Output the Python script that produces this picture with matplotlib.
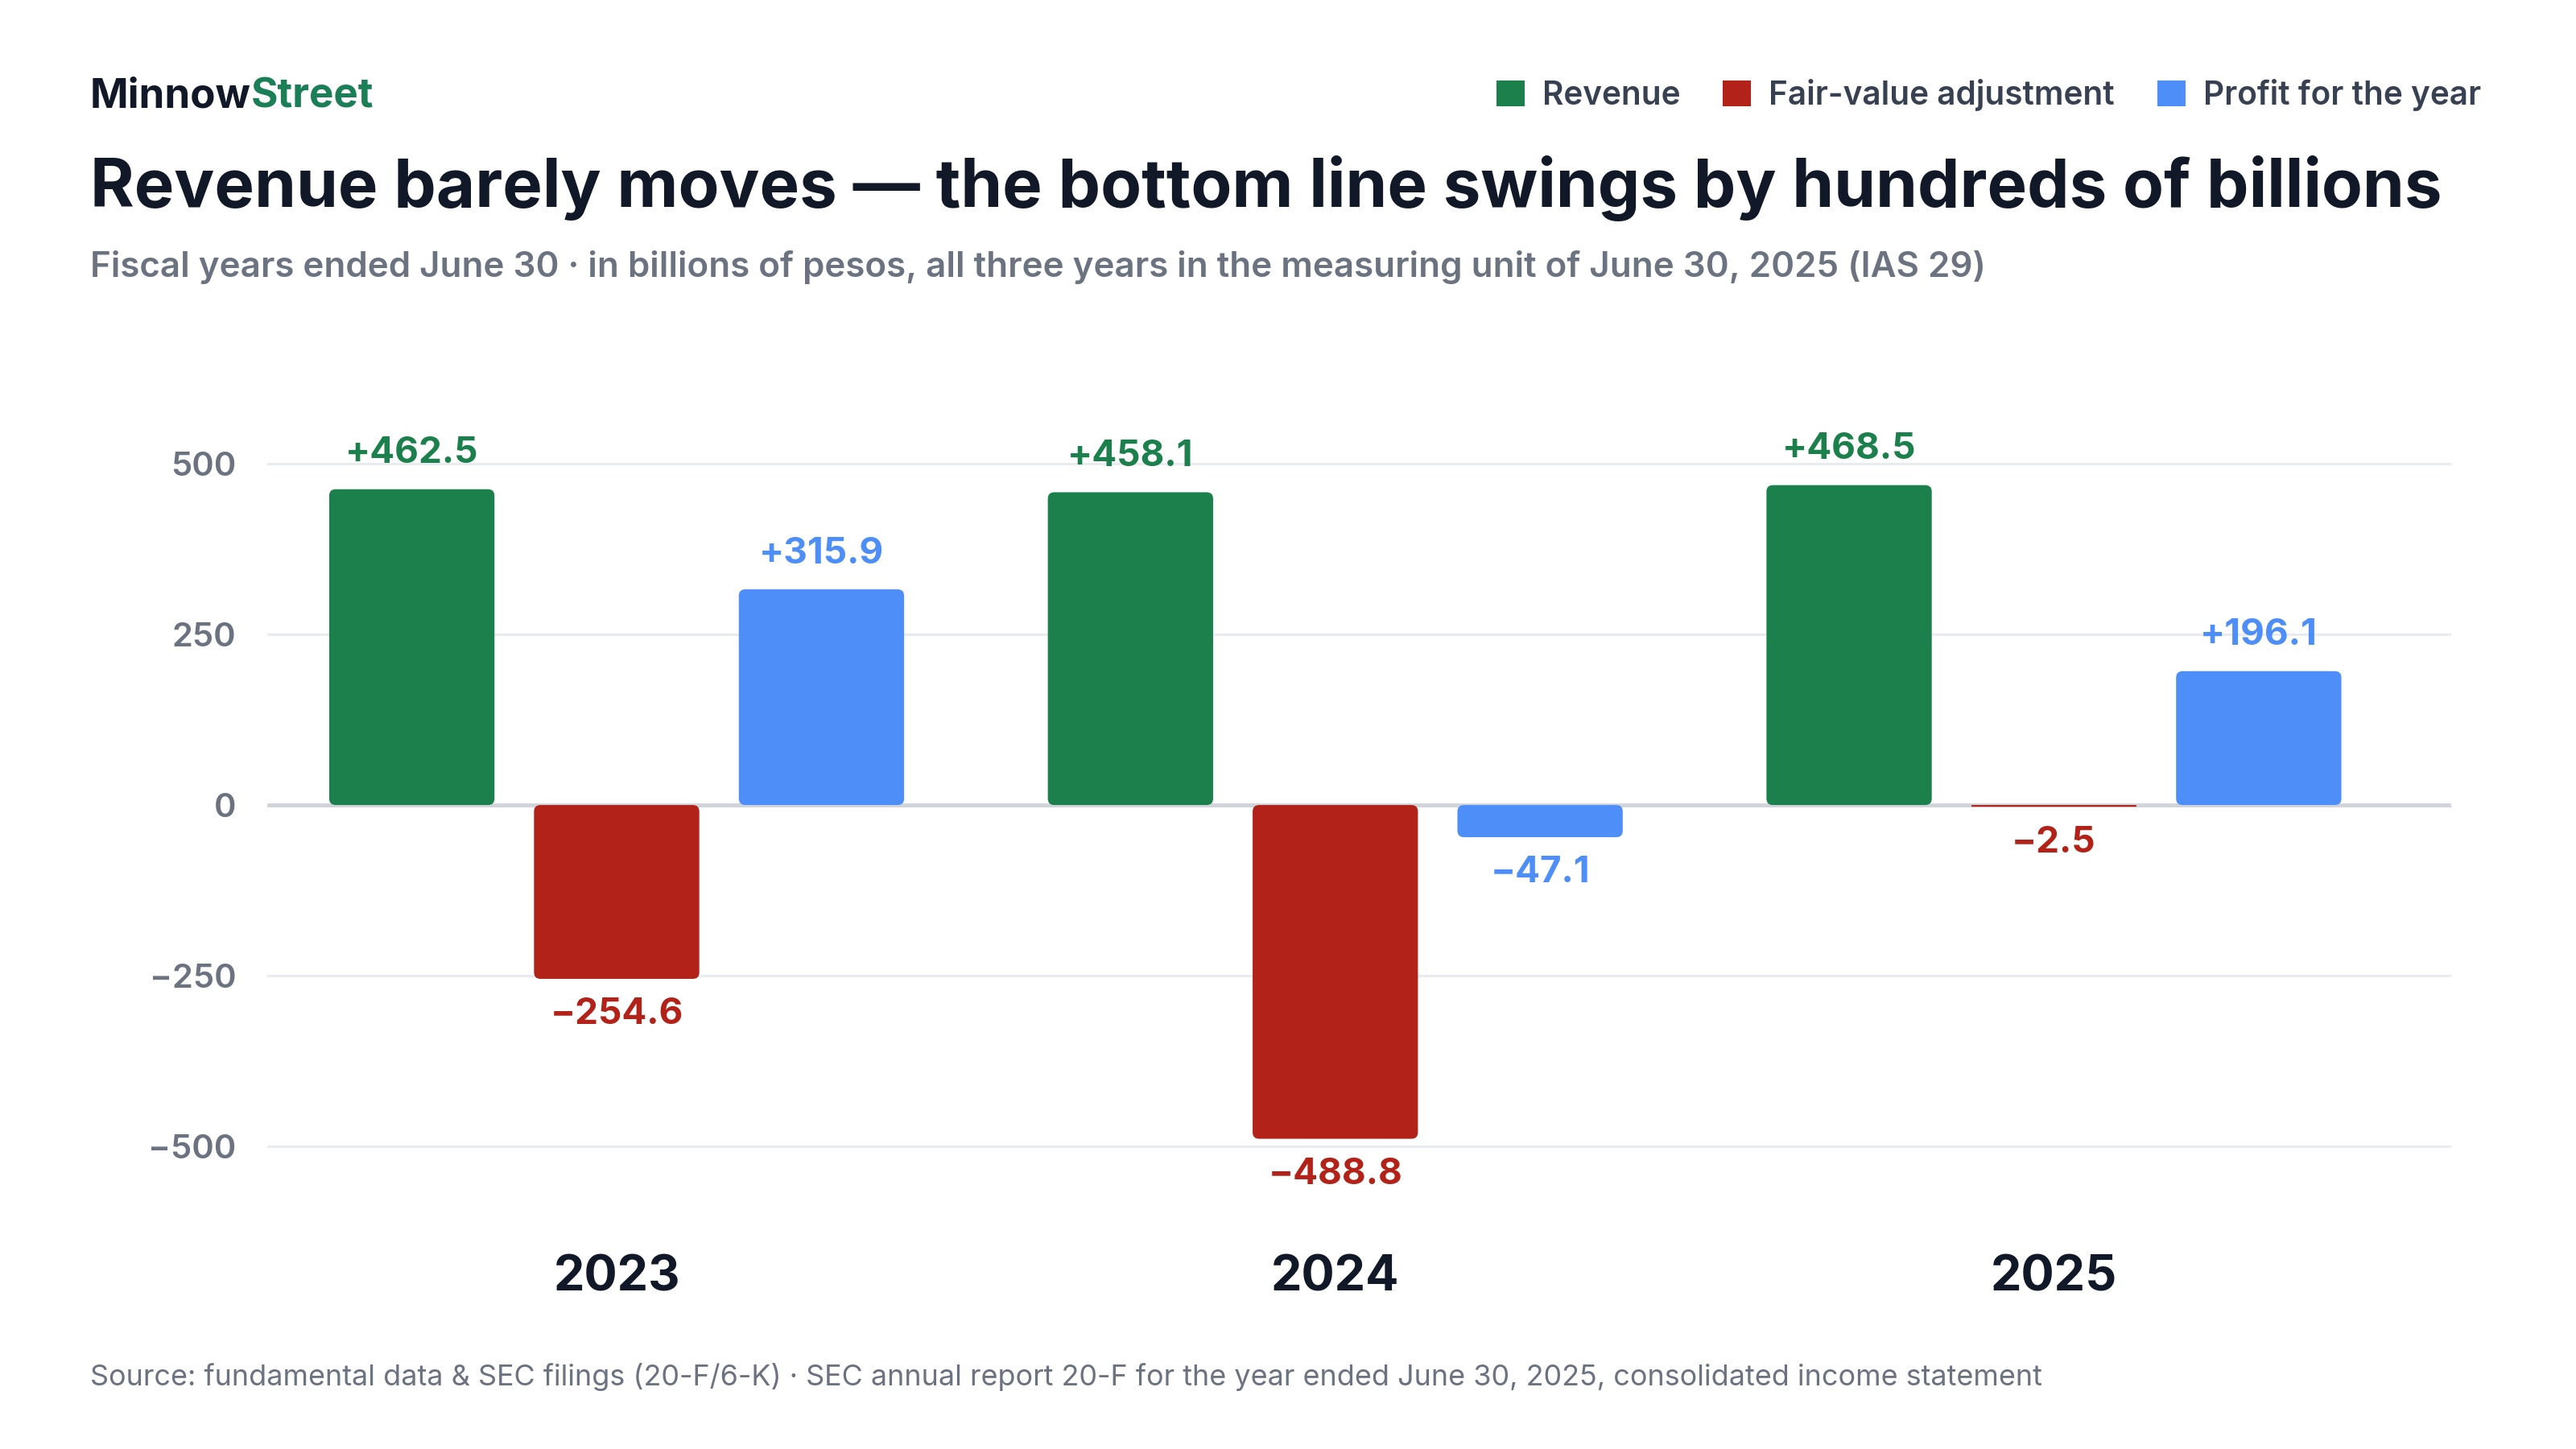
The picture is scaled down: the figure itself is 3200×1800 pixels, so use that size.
import matplotlib.pyplot as plt
import numpy as np
from matplotlib.patches import FancyBboxPatch, Patch
from matplotlib.transforms import blended_transform_factory

plt.rcParams['font.family'] = ['Inter', 'DejaVu Sans']

years = ['2023', '2024', '2025']
series = ['Revenue', 'Fair-value adjustment', 'Profit for the year']
revenue = [462.5, 458.1, 468.5]
fair_value = [-254.6, -488.8, -2.5]
profit = [315.9, -47.1, 196.1]
colors = ['#1b804b', '#b22218', '#4d8ef8']
yticks = [-500, -250, 0, 250, 500]

W, H, DPI = 16, 9, 200
fig = plt.figure(figsize=(W, H), dpi=DPI)
left, right, bottom, top = 0.1038, 0.9516, 0.1617, 0.7083
ax = fig.add_axes([left, bottom, right - left, top - bottom])

xlim = (-0.486, 2.553)
ylim = (-600, 560)
ax.set_xlim(xlim)
ax.set_ylim(ylim)

x = np.arange(len(years))
width = 0.23
offset = 0.285

# data units per pixel, for rounded corners
xu = (xlim[1] - xlim[0]) / ((right - left) * W * DPI)
yu = (ylim[1] - ylim[0]) / ((top - bottom) * H * DPI)
aspect = yu / xu

handles = []
for i, (vals, c, name) in enumerate(zip([revenue, fair_value, profit], colors, series)):
    bars = ax.bar(x + (i - 1) * offset, vals, width, color=c, zorder=3)
    handles.append(Patch(fc=c, ec='none', label=name))
    for b, v in zip(bars, vals):
        bx, by, bw, bh = b.get_x(), b.get_y(), b.get_width(), b.get_height()
        if bh < 0:
            by, bh = by + bh, -bh
        r_px = min(8, bh / yu / 2)
        b.set_visible(False)
        ax.add_patch(FancyBboxPatch((bx, by), bw, bh,
                                    boxstyle=f"round,pad=0,rounding_size={r_px * xu}",
                                    mutation_aspect=aspect, fc=c, ec='none', zorder=3))
        txt = ('+' if v >= 0 else '\u2212') + f"{abs(v):.1f}"
        ax.annotate(txt, (b.get_x() + bw / 2, v), xytext=(0, 16 if v >= 0 else -16),
                    textcoords='offset points', ha='center', va='center',
                    color=c, fontsize=16.5, fontweight='bold', zorder=4)

ax.set_yticks(yticks)
ax.set_yticklabels([('\u2212' + str(-t)) if t < 0 else str(t) for t in yticks])
ax.tick_params(axis='y', length=0, pad=14, labelsize=15, labelcolor='#6b7280')
for lab in ax.get_yticklabels():
    lab.set_fontweight('semibold')
ax.set_xticks([])
for t in yticks:
    if t == 0:
        ax.axhline(0, color='#d1d5db', lw=1.8, zorder=2)
    else:
        ax.axhline(t, color='#e8ebef', lw=1.1, zorder=1)
for s in ax.spines.values():
    s.set_visible(False)

tr = blended_transform_factory(ax.transData, ax.transAxes)
for xi, yr in zip(x, years):
    ax.text(xi, -0.08, yr, transform=tr, ha='center', va='center',
            fontsize=22, fontweight='bold', color='#111827')

# header
t1 = fig.text(112 / 3200, 1 - 120 / 1800, 'Minnow', fontsize=18.4, fontweight='bold',
              color='#111827', va='center', ha='left')
fig.canvas.draw()
bb = t1.get_window_extent()
fig.text(bb.x1 / (W * DPI), 1 - 120 / 1800, 'Street', fontsize=18.4, fontweight='bold',
         color='#1a7f56', va='center', ha='left')

fig.text(112 / 3200, 1 - 234 / 1800,
         'Revenue barely moves \u2014 the bottom line swings by hundreds of billions',
         fontsize=30, fontweight='bold', color='#111827', va='center', ha='left')
fig.text(112 / 3200, 1 - 332 / 1800,
         'Fiscal years ended June 30 \u00b7 in billions of pesos, all three years in the '
         'measuring unit of June 30, 2025 (IAS 29)',
         fontsize=15.8, fontweight='semibold', color='#6b7280', va='center', ha='left')
fig.text(112 / 3200, 1 - 1710 / 1800,
         'Source: fundamental data & SEC filings (20-F/6-K) \u00b7 SEC annual report 20-F for '
         'the year ended June 30, 2025, consolidated income statement',
         fontsize=12.95, color='#6b7280', va='center', ha='left')

leg = fig.legend(handles=handles, loc='center right',
                 bbox_to_anchor=(3082 / 3200, 1 - 118 / 1800), ncol=3,
                 frameon=False, fontsize=14.6, handlelength=0.86, handleheight=0.86,
                 handletextpad=0.55, columnspacing=1.3, borderaxespad=0, borderpad=0)
for txt in leg.get_texts():
    txt.set_color('#374151')
    txt.set_fontweight('semibold')

fig.savefig('out.png', dpi=DPI, facecolor='white')
